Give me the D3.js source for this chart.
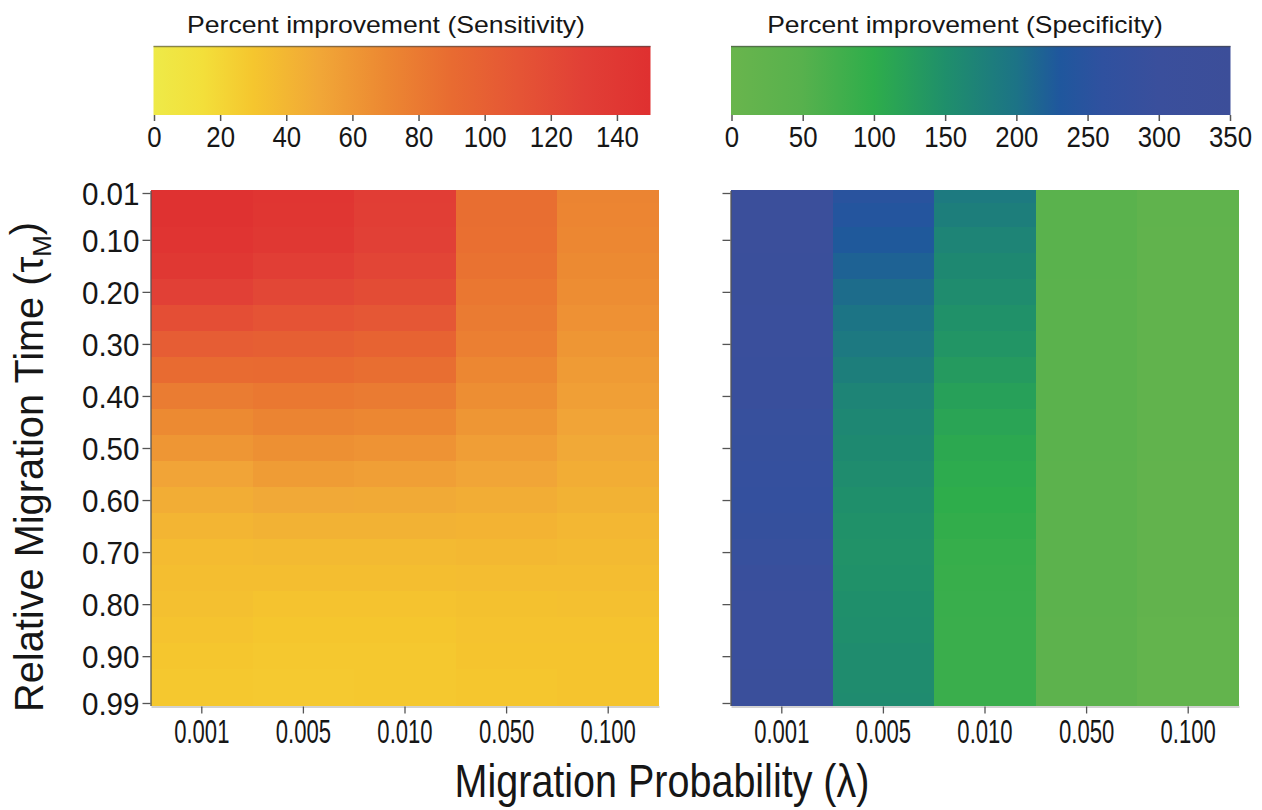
<!DOCTYPE html>
<html lang="en">
<head>
	<meta charset="UTF-8"/>
	<title>Percent improvement heatmaps</title>
	<script src="https://d3js.org/d3.v7.min.js"></script>
	<style>
		body { margin: 0; background: #fff; }
		text { font-family: Arial, "Liberation Sans", sans-serif; fill: #161616; }
	</style>
</head>
<body>
<script>

var w = 1262;
var h = 810;

// categories and tick labels
var lambdas = ["0.001", "0.005", "0.010", "0.050", "0.100"];
var tauRows = [0.01, 0.05, 0.10, 0.15, 0.20, 0.25, 0.30, 0.35, 0.40, 0.45, 0.50,
               0.55, 0.60, 0.65, 0.70, 0.75, 0.80, 0.85, 0.90, 0.95, 0.99];
var tauTicks = [0.01, 0.1, 0.2, 0.3, 0.4, 0.5, 0.6, 0.7, 0.8, 0.9, 0.99];
var sensTicks = [0, 20, 40, 60, 80, 100, 120, 140];
var specTicks = [0, 50, 100, 150, 200, 250, 300, 350];

// percent improvement in sensitivity, one array per lambda (rows follow tauRows)
var sens001 = [148, 147, 145, 139, 129, 116, 103, 90, 78, 69, 61, 52, 46, 41, 37, 35, 34, 32, 30, 29, 29];
var sens005 = [143, 142, 139, 132, 123, 112, 101, 91, 81, 73, 65, 57, 49, 43, 38, 35, 32, 30, 29, 28, 28];
var sens010 = [133, 132, 129, 125, 118, 108, 97, 88, 79, 71, 63, 55, 48, 43, 38, 35, 32, 30, 29, 29, 29];
var sens050 = [88, 88, 87, 85, 82, 79, 76, 71, 66, 61, 56, 51, 46, 42, 39, 36, 33, 32, 31, 30, 30];
var sens100 = [73, 72, 71, 69, 67, 64, 61, 58, 55, 52, 49, 46, 43, 40, 38, 36, 34, 32, 31, 31, 31];

// percent improvement in specificity
var spec001 = [318, 316, 314, 312, 310, 306, 302, 298, 295, 290, 285, 280, 278, 282, 288, 295, 300, 305, 308, 310, 312];
var spec005 = [248, 240, 228, 218, 207, 198, 190, 180, 170, 165, 160, 155, 150, 147, 145, 147, 150, 152, 155, 156, 157];
var spec010 = [188, 180, 170, 162, 155, 147, 140, 131, 122, 115, 108, 104, 100, 95, 90, 88, 86, 85, 85, 85, 85];
var spec050 = [42, 42, 41, 41, 40, 40, 40, 39, 39, 38, 38, 37, 37, 36, 36, 35, 35, 34, 34, 34, 34];
var spec100 = [24, 24, 23, 23, 23, 22, 22, 22, 21, 21, 21, 20, 20, 20, 19, 19, 19, 18, 18, 18, 18];

// colour ramps
var sensStops  = [0, 15, 30, 50, 70, 90, 110, 130, 150];
var sensColors = ["#eeea48", "#f3df3a", "#f5c62e", "#f1a737", "#ec8832", "#e86b31", "#e55535", "#e13f36", "#df3030"];
var specStops  = [0, 50, 100, 150, 200, 230, 260, 300, 350];
var specColors = ["#69b54d", "#57b14d", "#2ead4b", "#1f8f6b", "#1c7386", "#1f579d", "#2f519f", "#3a4f9c", "#3c4e99"];

var sensColor = d3.scaleLinear().domain(sensStops).range(sensColors);
var specColor = d3.scaleLinear().domain(specStops).range(specColors);

var svg = d3.select("body")
	.append("svg")
	.attr("width", w)
	.attr("height", h);

var defs = svg.append("defs");

var yScale = d3.scaleLinear()
	.domain([0.005, 0.995])
	.range([190.4, 705.6]);

// squeeze text horizontally so it fits a given width
function fitWidth(sel, cx, y, width, rotate) {
	var len = sel.node().getBBox().width;
	var sx = width / len;
	sel.attr("transform", "translate(" + cx + "," + y + ")" +
		(rotate ? " rotate(-90)" : "") + " scale(" + sx + ",1)");
}

function drawPanel(x0, x1, columns, color, labels) {
	var xScale = d3.scaleBand()
		.domain(lambdas)
		.range([x0, x1]);

	var g = svg.append("g");

	columns.forEach(function(values, ci) {
		g.selectAll(null)
			.data(values)
			.enter()
			.append("rect")
			.attr("x", xScale(lambdas[ci]))
			.attr("width", xScale.bandwidth() + (ci < 4 ? 0.6 : 0))
			.attr("y", function(d, i) {
				var top = i == 0 ? 0.005 : (tauRows[i - 1] + tauRows[i]) / 2;
				return yScale(top);
			})
			.attr("height", function(d, i) {
				var top = i == 0 ? 0.005 : (tauRows[i - 1] + tauRows[i]) / 2;
				var bot = i == tauRows.length - 1 ? 0.995 : (tauRows[i] + tauRows[i + 1]) / 2;
				return yScale(bot) - yScale(top) + 0.6;
			})
			.attr("fill", function(d) { return color(d); })
			.attr("shape-rendering", "crispEdges");
	});

	// x axis
	var xAxis = d3.axisBottom(xScale).tickSize(7).tickSizeOuter(0);
	var gx = svg.append("g")
		.attr("transform", "translate(0," + 706.5 + ")")
		.call(xAxis);
	gx.select(".domain").attr("stroke", "#6a6a6a").attr("stroke-opacity", 0.6);
	gx.selectAll(".tick line").attr("stroke", "#555").attr("stroke-width", 1.3);
	gx.selectAll(".tick text")
		.attr("y", 37)
		.attr("dy", 0)
		.attr("font-size", 32.5)
		.attr("fill", "#161616")
		.attr("transform", "scale(0.68,1)");

	// y axis
	var yAxis = d3.axisLeft(yScale).tickValues(tauTicks).tickSize(8).tickSizeOuter(0)
		.tickFormat(labels ? d3.format(".2f") : "");
	var gy = svg.append("g")
		.attr("transform", "translate(" + (x0 - 0.5) + ",0)")
		.call(yAxis);
	gy.select(".domain").attr("stroke", "#555").attr("stroke-width", 1.3);
	gy.selectAll(".tick line").attr("stroke", "#555").attr("stroke-width", 1.3);
	if (labels) {
		gy.selectAll(".tick text")
			.attr("font-size", 31.5)
			.attr("fill", "#161616")
			.attr("x", -11 / 0.94)
			.attr("dy", "0.36em")
			.attr("transform", "scale(0.94,1)");
	}
}

function drawColorbar(x0, x1, max, ticks, stops, color, id, title, titleCx, titleW) {
	var grad = defs.append("linearGradient")
		.attr("id", id)
		.attr("x1", "0%").attr("x2", "100%")
		.attr("y1", "0%").attr("y2", "0%");
	grad.selectAll("stop")
		.data(stops)
		.enter()
		.append("stop")
		.attr("offset", function(d) { return (d / max * 100) + "%"; })
		.attr("stop-color", function(d) { return color(d); });

	var cb = d3.scaleLinear().domain([0, max]).range([x0 + 0.5, x1 - 0.5]);

	svg.append("rect")
		.attr("x", x0)
		.attr("y", 46)
		.attr("width", x1 - x0)
		.attr("height", 69)
		.attr("fill", "url(#" + id + ")");
	svg.append("line")
		.attr("x1", x0).attr("x2", x1)
		.attr("y1", 46.5).attr("y2", 46.5)
		.attr("stroke", "#444").attr("stroke-opacity", 0.6).attr("stroke-width", 1.5);

	var axis = d3.axisBottom(cb).tickValues(ticks).tickSize(6).tickFormat(d3.format("d"));
	var ga = svg.append("g")
		.attr("transform", "translate(0,115)")
		.call(axis);
	ga.select(".domain").remove();
	ga.selectAll(".tick line").attr("stroke", "#555").attr("stroke-width", 1.5);
	ga.selectAll(".tick text")
		.attr("y", 32.5)
		.attr("dy", 0)
		.attr("font-size", 30)
		.attr("fill", "#161616")
		.attr("transform", "scale(0.86,1)");

	var t = svg.append("text")
		.attr("text-anchor", "middle")
		.attr("font-size", 23.5)
		.text(title);
	fitWidth(t, titleCx, 33, titleW, false);
}

drawPanel(151, 659, [sens001, sens005, sens010, sens050, sens100], sensColor, true);
drawPanel(731, 1239, [spec001, spec005, spec010, spec050, spec100], specColor, false);

drawColorbar(153.5, 650.5, 150, sensTicks, sensStops, sensColor, "gradSens",
	"Percent improvement (Sensitivity)", 386, 398);
drawColorbar(731, 1230.5, 350, specTicks, specStops, specColor, "gradSpec",
	"Percent improvement (Specificity)", 965, 396);

// axis titles
var yTitle = svg.append("text")
	.attr("text-anchor", "middle")
	.attr("font-size", 40);
yTitle.append("tspan").text("Relative Migration Time (\u03c4");
yTitle.append("tspan").attr("font-size", 26).attr("dy", "0.3em").text("M");
yTitle.append("tspan").attr("dy", "-0.3em").text(")");
fitWidth(yTitle, 43, 467, 490, true);

var xTitle = svg.append("text")
	.attr("text-anchor", "middle")
	.attr("font-size", 46)
	.text("Migration Probability (\u03bb)");
fitWidth(xTitle, 662, 797, 415, false);

</script>
</body>
</html>
